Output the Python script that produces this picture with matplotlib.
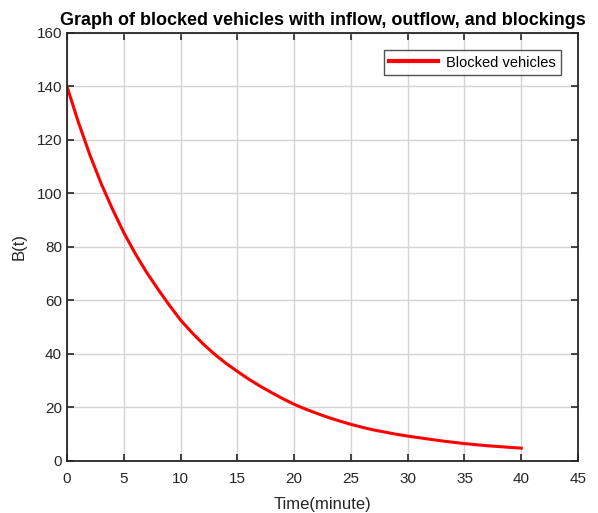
import matplotlib
matplotlib.use("Agg")
import matplotlib.pyplot as plt

# values, one per minute
time_min = list(range(0, 41))
blocked = [140, 126.7, 114.6, 103.8, 94.2, 85.4, 77.6, 70.6, 64.3, 58.3,
           52.7, 48.0, 43.7, 39.9, 36.5, 33.5, 30.6, 28.0, 25.6, 23.3,
           21.2, 19.4, 17.8, 16.3, 14.95, 13.7, 12.6, 11.6, 10.8, 10.0,
           9.3, 8.7, 8.1, 7.5, 7.0, 6.5, 6.1, 5.7, 5.4, 5.1, 4.8]

x_ticks = list(range(0, 46, 5))
y_ticks = list(range(0, 161, 20))

plt.rcParams["font.family"] = ["Liberation Sans", "DejaVu Sans"]

fig = plt.figure(figsize=(5.98, 5.13), dpi=100)
ax = fig.add_axes([0.112, 0.1014, 0.8546, 0.8343])

ax.plot(time_min, blocked, color="red", lw=2.2, label="Blocked vehicles")

ax.set_xlim(0, 45)
ax.set_ylim(0, 160)
ax.set_xticks(x_ticks)
ax.set_yticks(y_ticks)
ax.grid(True, color="#d4d4d4", lw=1)
ax.set_axisbelow(True)
ax.tick_params(direction="in", top=True, right=True, length=5, width=1.2,
               labelsize=11, colors="#262626")
ax.tick_params(axis="x", pad=8)
for s in ax.spines.values():
    s.set_linewidth(1.3)
    s.set_color("#262626")

ax.set_xlabel("Time(minute)", fontsize=12, color="#262626", labelpad=8)
ax.set_ylabel("B(t)", fontsize=12, color="#262626", labelpad=7)
ax.set_title("Graph of blocked vehicles with inflow, outflow, and blockings",
             fontsize=13, fontweight="bold", pad=6)

leg = ax.legend(loc="upper right", fontsize=10.5, frameon=True, fancybox=False,
                handlelength=3.4, handletextpad=0.5, borderaxespad=1.2,
                borderpad=0.35)
leg.get_frame().set_edgecolor("#262626")
leg.get_frame().set_linewidth(1)
for l in leg.get_lines():
    l.set_linewidth(3)

fig.savefig("out.png", dpi=100)
